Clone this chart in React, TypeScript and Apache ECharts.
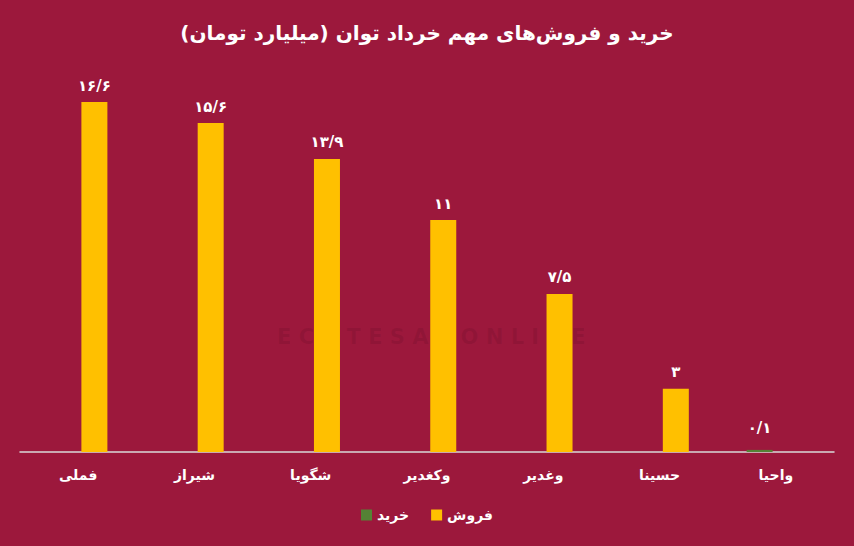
import React, { useEffect, useRef } from "react";
import * as echarts from "echarts";

const categories = ["فملی", "شیراز", "شگویا", "وکغدیر", "وغدیر", "حسینا", "واحیا"];
const salesValues: (number | null)[] = [16.6, 15.6, 13.9, 11, 7.5, 3, null];
const buyValues: (number | null)[] = [null, null, null, null, null, null, 0.1];
const seriesNames = ["خرید", "فروش"];
const titleText = "خرید و فروش‌های مهم خرداد توان (میلیارد تومان)";
const watermarkText = "E C O T E S A D O N L I N E";

const FONT = "'DejaVu Sans', 'Noto Sans', sans-serif";

function toPersian(v: number): string {
  const d = "۰۱۲۳۴۵۶۷۸۹";
  return String(v)
    .replace(".", "/")
    .replace(/[0-9]/g, (c) => d[Number(c)]);
}

export default function App() {
  const ref = useRef<HTMLDivElement>(null);
  useEffect(() => {
    if (!ref.current) return;
    const chart = echarts.init(ref.current, null, { renderer: "svg" });
    const labelCfg = {
      show: true,
      position: "top" as const,
      color: "#ffffff",
      fontWeight: "bold" as const,
      fontSize: 15,
      fontFamily: FONT,
      distance: 9,
      formatter: (p: any) => toPersian(p.value),
    };
    chart.setOption({
      animation: false,
      backgroundColor: "#9C183C",
      title: {
        text: titleText,
        left: "center",
        top: 18,
        textStyle: { color: "#ffffff", fontSize: 20, fontWeight: "bold", fontFamily: FONT },
      },
      graphic: [
        {
          type: "text",
          left: 277,
          top: 326,
          z: -1,
          silent: true,
          style: {
            text: watermarkText,
            fill: "rgba(60,0,20,0.12)",
            fontSize: 21,
            fontWeight: "bold",
            fontFamily: FONT,
          },
        },
      ],
      legend: {
        data: seriesNames,
        bottom: 19,
        left: "center",
        icon: "rect",
        itemWidth: 11,
        itemHeight: 11,
        itemGap: 22,
        textStyle: { color: "#ffffff", fontSize: 14, fontWeight: "bold", fontFamily: FONT },
      },
      grid: { left: 20, right: 20, top: 72.5, bottom: 94, containLabel: false },
      xAxis: {
        type: "category",
        data: categories,
        axisLine: { show: true, lineStyle: { color: "#D9D9D9", width: 1.5 } },
        axisTick: { show: false },
        axisLabel: {
          color: "#ffffff",
          fontSize: 14,
          fontWeight: "bold",
          fontFamily: FONT,
          margin: 16,
        },
      },
      yAxis: {
        type: "value",
        min: 0,
        max: 18,
        show: false,
        splitLine: { show: false },
      },
      series: [
        {
          name: seriesNames[0],
          type: "bar",
          data: buyValues,
          barWidth: 26,
          barGap: "25%",
          itemStyle: { color: "#548235" },
          label: { ...labelCfg, distance: 14 },
        },
        {
          name: seriesNames[1],
          type: "bar",
          data: salesValues,
          barWidth: 26,
          barGap: "25%",
          itemStyle: { color: "#FFC000" },
          label: labelCfg,
        },
      ],
    });
    return () => chart.dispose();
  }, []);
  return (
    <div
      ref={ref}
      style={{ position: "fixed", left: 0, top: 0, width: 854, height: 546 }}
    />
  );
}
